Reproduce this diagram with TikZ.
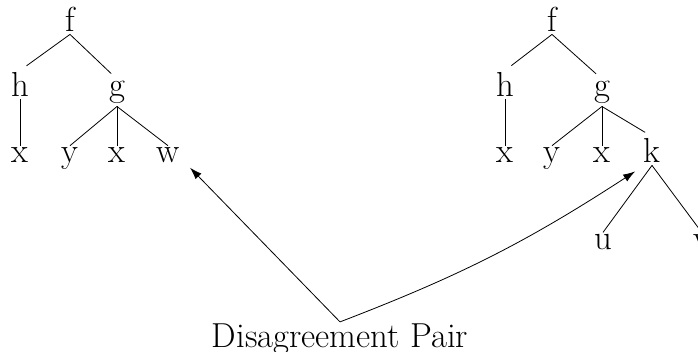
\documentclass[tikz,border=0pt]{standalone}
\usepackage{tikz}
\usetikzlibrary{arrows.meta}
\tikzset{
  % Daraxt tugunlari
  lab/.style      = {font=\LARGE, inner sep=1pt, anchor=base},
  % Daraxt qirralari
  treeedge/.style = {thin, black},
  toinner/.style  = {treeedge, shorten >=4pt},
  % Ko'rsatkich strelkalari
  pointer/.style  = {-{Latex[length=6pt,width=4pt]}, thin, black},
}
\begin{document}
\begin{tikzpicture}[x=0.498pt,y=-0.498pt]
  \useasboundingbox (0,0) rectangle (698,352);
  % Chap daraxt: f(h(x), g(y,x,w))
  \node[lab] (lf)  at (70,32)   {f};
  \node[lab] (lh)  at (20,97)   {h};
  \node[lab] (lg)  at (117,97)  {g};
  \node[lab] (lx1) at (20,163)  {x};
  \node[lab] (ly)  at (70,163)  {y};
  \node[lab] (lx2) at (117,163) {x};
  \node[lab] (lw)  at (168,163) {w};
  % O'ng daraxt: f(h(x), g(y,x,k(u,v)))
  \node[lab] (rf)  at (552,32)  {f};
  \node[lab] (rh)  at (505,97)  {h};
  \node[lab] (rg)  at (602,97)  {g};
  \node[lab] (rx1) at (505,163) {x};
  \node[lab] (ry)  at (552,163) {y};
  \node[lab] (rx2) at (602,163) {x};
  \node[lab] (rk)  at (652,163) {k};
  \node[lab] (ru)  at (603,250) {u};
  \node[lab] (rv)  at (702,250) {v};
  % Qirralar
  \foreach \t in {l,r}{
    \draw[toinner]  (\t f.south) -- (\t h.north);
    \draw[toinner]  (\t f.south) -- (\t g.north);
    \draw[treeedge] (\t h.south) -- (\t x1.north);
    \draw[treeedge] (\t g.south) -- (\t y.north);
    \draw[treeedge] (\t g.south) -- (\t x2.north);
  }
  \draw[treeedge] (lg.south) -- (lw.north);
  \draw[toinner]  (rg.south) -- (rk.north);
  \draw[treeedge] (rk.south) -- (ru.north);
  \draw[treeedge] (rk.south) -- (rv.north);
  % Kelishmovchilik juftligi
  \node[lab] (pair) at (340,348) {Disagreement Pair};
  \draw[pointer] (pair.north) -- ([xshift=4pt,yshift=-1pt]lw.south east);
  \draw[pointer] (pair.north) to[bend right=6] ([xshift=-3pt,yshift=-3pt]rk.south west);
\end{tikzpicture}
\end{document}
